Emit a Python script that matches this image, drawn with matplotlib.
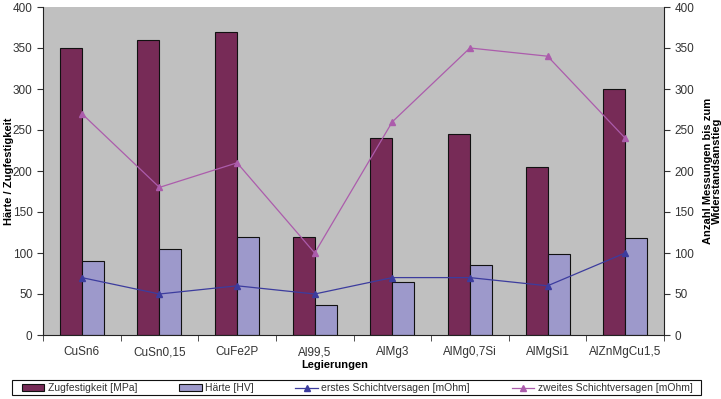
import matplotlib
matplotlib.use('Agg')
import matplotlib.pyplot as plt
from matplotlib.patches import Rectangle
import numpy as np

plt.rcParams['font.family'] = ['Liberation Sans', 'DejaVu Sans']

# Daten
legierungen = ['CuSn6', 'CuSn0,15', 'CuFe2P', 'Al99,5', 'AlMg3', 'AlMg0,7Si', 'AlMgSi1', 'AlZnMgCu1,5']
zugfestigkeit = [350, 360, 370, 120, 240, 245, 205, 300]
haerte = [90, 105, 120, 37, 65, 85, 99, 118]
erstes = [70, 50, 60, 50, 70, 70, 60, 100]
zweites = [270, 180, 210, 100, 260, 350, 340, 240]

c_rot = '#772B57'
c_blau = '#9D99CB'
c_linie1 = '#3C3C9E'
c_linie2 = '#AC5CAC'
txt = '#333333'

fig = plt.figure(figsize=(7.21, 3.99), dpi=100)
ax = fig.add_axes([43 / 721, 1 - 335 / 399, (664 - 43) / 721, (335 - 7) / 399])
ax.set_facecolor('#C0C0C0')

x = np.arange(len(legierungen))
w = 0.283
b1 = ax.bar(x - w / 2, zugfestigkeit, w, color=c_rot, edgecolor='#111111', linewidth=0.8,
            label='Zugfestigkeit [MPa]')
b2 = ax.bar(x + w / 2, haerte, w, color=c_blau, edgecolor='#111111', linewidth=0.8,
            label='Härte [HV]')

ax.set_xlim(-0.5, len(legierungen) - 0.5)
ax.set_ylim(0, 400)
ax.set_yticks(range(0, 401, 50))
ax.set_xticks(x)
ax.set_xticklabels(legierungen)
ax.set_xticks(np.arange(-0.5, len(legierungen)), minor=True)
ax.tick_params(axis='x', which='major', length=0, pad=8, labelsize=8.5, labelcolor=txt)
ax.tick_params(axis='x', which='minor', length=4, direction='out', color=txt)
ax.tick_params(axis='y', length=4, direction='out', labelsize=8.5, labelcolor=txt, color=txt)
ax.spines['top'].set_visible(False)
ax.spines['right'].set_visible(False)
for s in ['left', 'bottom']:
    ax.spines[s].set_color('#222222')
ax.set_ylabel('Härte / Zugfestigkeit', fontsize=8, fontweight='bold')
ax.yaxis.set_label_coords(-0.047, 0.5)
ax.set_xlabel('Legierungen', fontsize=8, fontweight='bold')
ax.xaxis.set_label_coords(0.47, -0.075)

ax2 = ax.twinx()
l1, = ax2.plot(x, erstes, color=c_linie1, marker='^', markersize=5, linewidth=0.9,
               label='erstes Schichtversagen [mOhm]')
l2, = ax2.plot(x, zweites, color=c_linie2, marker='^', markersize=5, linewidth=0.9,
               label='zweites Schichtversagen [mOhm]')
ax2.set_ylim(0, 400)
ax2.set_yticks(range(0, 401, 50))
ax2.tick_params(axis='y', length=4, direction='out', labelsize=8.5, labelcolor=txt, color=txt)
ax2.spines['top'].set_visible(False)
ax2.spines['left'].set_visible(False)
ax2.spines['bottom'].set_visible(False)
ax2.spines['right'].set_color('#222222')
ax2.set_ylabel('Anzahl Messungen bis zum\nWiderstandsanstieg', fontsize=8, fontweight='bold',
               labelpad=6, linespacing=0.95)

# Legendenrahmen ueber fast die ganze Breite
fig.patches.append(Rectangle((12 / 721, 4 / 399), (701 - 12) / 721, 15 / 399,
                             transform=fig.transFigure, facecolor='white',
                             edgecolor='#111111', linewidth=0.8))
leg = fig.legend(handles=[b1, b2, l1, l2], loc='center', ncol=4,
                 bbox_to_anchor=(357 / 721, 1 - 388 / 399),
                 fontsize=7.5, frameon=False, borderpad=0,
                 handlelength=2.2, handleheight=0.6, handletextpad=0.3,
                 columnspacing=4.0, borderaxespad=0)
for t in leg.get_texts():
    t.set_color(txt)

fig.savefig('out.png', dpi=100)
